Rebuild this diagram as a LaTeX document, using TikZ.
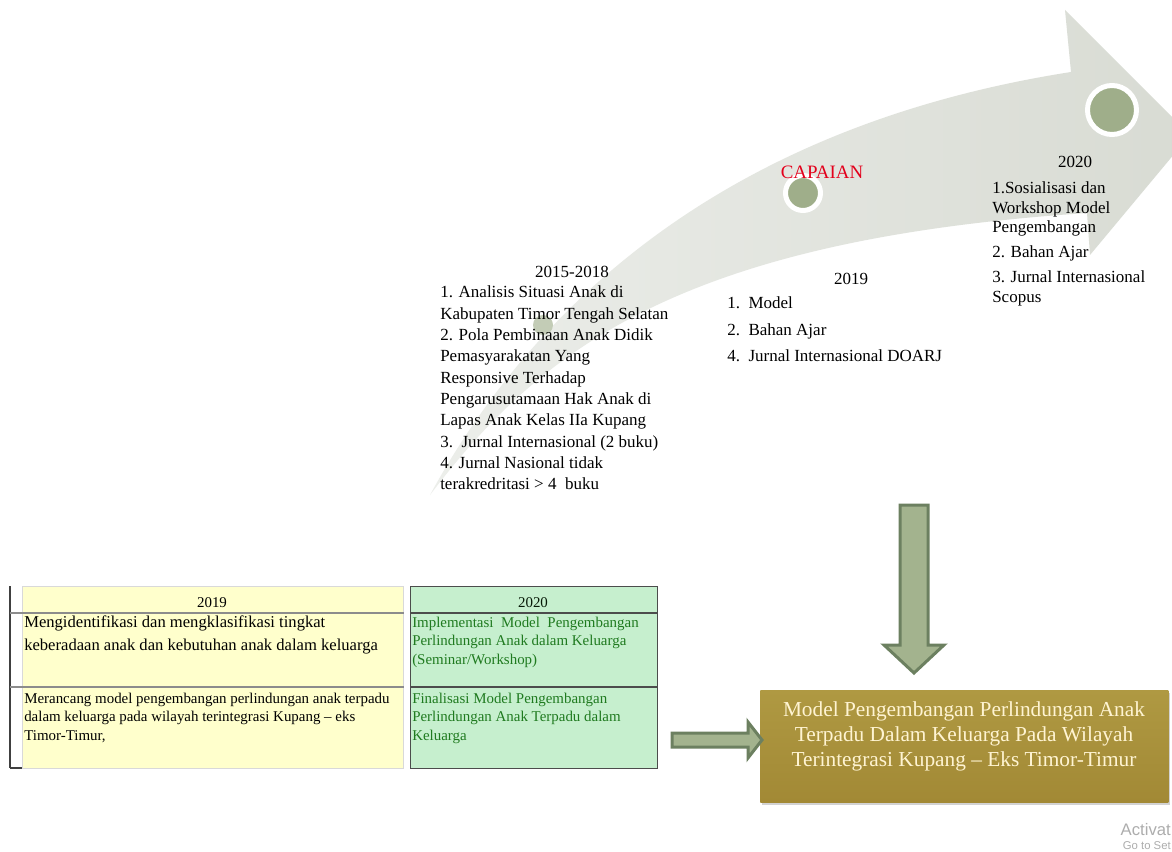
\documentclass[tikz,border=0pt]{standalone}
\usepackage{fontspec}
\setmainfont{Liberation Serif}
\newfontfamily\wmfont{Liberation Sans}
\usetikzlibrary{calc,shadows}
\definecolor{arrowgray}{HTML}{D8DBD3}
\definecolor{arrowlight}{HTML}{ECEEEA}
\definecolor{dotgreen}{HTML}{9FAE8A}
\definecolor{dotfaint}{HTML}{C3CCB6}
\definecolor{capred}{HTML}{E3001B}
\definecolor{tblyellow}{HTML}{FFFFCC}
\definecolor{tblgreen}{HTML}{C6EFCE}
\definecolor{tbltext}{HTML}{1F7A1F}
\definecolor{blockfill}{HTML}{A3B38E}
\definecolor{blockedge}{HTML}{6C8060}
\definecolor{goldtop}{HTML}{AF9942}
\definecolor{goldbot}{HTML}{A28935}
\definecolor{cream}{HTML}{FFF4D2}
\begin{document}
\begin{tikzpicture}[x=0.75pt,y=-0.75pt,
  tl/.style={font=\fontsize{12.75}{16}\selectfont, inner sep=0pt, align=left, anchor=north west},
  yr/.style={font=\fontsize{12.75}{16}\selectfont, inner sep=0pt},
  dot/.style={circle, fill=dotgreen, draw=white, line width=3.75pt, inner sep=0pt},
  cellA/.style={font=\fontsize{12.45}{17.25}\selectfont, inner sep=0pt, align=left, anchor=north west},
  cellB/.style={font=\fontsize{11.2}{13.9}\selectfont, inner sep=0pt, align=left, anchor=north west},
  hdr/.style={font=\fontsize{11.2}{13.9}\selectfont, inner sep=0pt},
  blockarrow/.style={fill=blockfill, draw=blockedge, line width=2.25pt, line join=miter},
  goldbox/.style={top color=goldtop, bottom color=goldbot, draw=none, inner sep=0pt,
     drop shadow={opacity=0.35, shadow xshift=1.5pt, shadow yshift=-2pt}},
  wm/.style={text=black!32, anchor=east, inner sep=0pt},
]
\useasboundingbox (0,0) rectangle (1172,852);
\clip (0,0) rectangle (1172,852);
\fill[white] (0,0) rectangle (1172,852);

% curved timeline arrow
\path[left color=arrowlight, right color=arrowgray]
  (430,495) .. controls (520,330) and (700,130) .. (1071,72)
  -- (1065,10) -- (1190,135) -- (1090,255) -- (1087,213)
  .. controls (680,240) and (540,350) .. (430,495) -- cycle;

% timeline dots
\node[circle, fill=dotfaint, inner sep=0pt, minimum size=15pt] (d1) at (543,325) {};
\node[dot, minimum size=26.25pt] (d2) at (803,193) {};
\node[dot, minimum size=36.75pt] (d3) at (1112,110) {};

\node[text=capred, font=\fontsize{14.2}{17}\selectfont, inner sep=0pt] (cap) at (822,172) {CAPAIAN};

% 2015-2018
\node[yr] (h1) at (572,272) {2015-2018};
\node[tl] (l1) at (440,285.7) {1. Analisis Situasi Anak di\\
Kabupaten Timor Tengah Selatan\\
2. Pola Pembinaan Anak Didik\\
Pemasyarakatan Yang\\
Responsive Terhadap\\
Pengarusutamaan Hak Anak di\\
Lapas Anak Kelas IIa Kupang\\
3.\ \ Jurnal Internasional (2 buku)\\
4. Jurnal Nasional tidak\\
terakredritasi > 4\ \ buku};

% 2019
\node[yr] (h2) at (851,279) {2019};
\node[tl, font=\fontsize{12.75}{19.9}\selectfont] (l2) at (727,296.7) {1.\ \ Model\\
2.\ \ Bahan Ajar\\
4.\ \ Jurnal Internasional DOARJ};

% 2020
\node[yr] (h3) at (1075,162) {2020};
\node[tl, font=\fontsize{12.75}{14.6}\selectfont] (l3) at (992,181.7) {1.Sosialisasi dan\\
Workshop Model\\
Pengembangan\\[4.1pt]
2. Bahan Ajar\\[4.1pt]
3. Jurnal Internasional\\
Scopus};

% table
\node[fill=tblyellow, draw=black!15, inner sep=0pt, minimum width=285.75pt, minimum height=136.5pt, anchor=north west] (ybox) at (22,586) {};
\node[fill=tblgreen, draw=black!70, line width=1.1pt, inner sep=0pt, minimum width=185.25pt, minimum height=136.5pt, anchor=north west] (gbox) at (410,586) {};
\coordinate (tl0) at (10,586);
\coordinate (bl0) at (10,768);
\draw[black!75, line width=0.9pt] (tl0) -- (bl0);
\draw[black!75, line width=0.9pt] (bl0) -- (bl0 -| ybox.west);
\draw[black!45, line width=0.8pt] (10,613) -- (ybox.east |- 0,613);
\draw[black!45, line width=0.8pt] (10,687) -- (ybox.east |- 0,687);
\draw[black!70, line width=1.1pt] (gbox.west |- 0,613) -- (gbox.east |- 0,613);
\draw[black!70, line width=1.1pt] (gbox.west |- 0,687) -- (gbox.east |- 0,687);

\node[hdr] (th1) at (212,603) {2019};
\node[hdr, text=black!80!tbltext] (th2) at (533,603) {2020};
\node[cellA] (c11) at (24,616) {Mengidentifikasi dan mengklasifikasi tingkat\\keberadaan anak dan kebutuhan anak dalam keluarga};
\node[cellB] (c21) at (24,692.5) {Merancang model pengembangan perlindungan anak terpadu\\dalam keluarga pada wilayah terintegrasi Kupang – eks\\Timor-Timur,};
\node[cellB, text=tbltext] (c12) at (412,616.5) {Implementasi\ \ Model\ \ Pengembangan\\Perlindungan Anak dalam Keluarga\\(Seminar/Workshop)};
\node[cellB, text=tbltext] (c22) at (412,692.5) {Finalisasi Model Pengembangan\\Perlindungan Anak Terpadu dalam\\Keluarga};

% gold result box
\node[goldbox, minimum width=306pt, minimum height=84pt, anchor=north west] (gold) at (760,690) {};
\node[text=cream, font=\fontsize{16}{18.75}\selectfont, align=center, inner sep=0pt] (goldtext) at (964,736) {Model Pengembangan Perlindungan Anak\\Terpadu Dalam Keluarga Pada Wilayah\\Terintegrasi Kupang – Eks Timor-Timur};

% block arrows
\coordinate (dtop) at (914,505);
\draw[blockarrow] ($(dtop)+(-14,0)$) -- ++(28,0) -- ++(0,140) -- ++(16,0) -- ++(-30,28) -- ++(-30,-28) -- ++(16,0) -- cycle;
\coordinate (rtail) at (672,740);
\draw[blockarrow] ($(rtail)+(0,-7)$) -- ++(76,0) -- ++(0,-11) -- ++(14,18) -- ++(-14,18) -- ++(0,-11) -- ++(-76,0) -- cycle;

% watermark fragments
\node[wm, font=\wmfont\fontsize{12.5}{14}\selectfont] (wm1) at (1171,830) {Activat};
\node[wm, font=\wmfont\fontsize{8.5}{10}\selectfont] (wm2) at (1171,846) {Go to Set};
\end{tikzpicture}
\end{document}
